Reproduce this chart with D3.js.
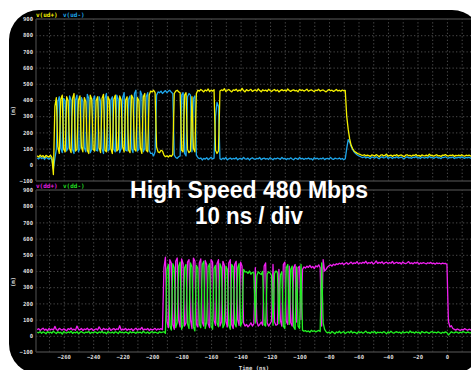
<!DOCTYPE html>
<html>
<head>
<meta charset="utf-8">
<script src="https://cdn.jsdelivr.net/npm/d3@7"></script>
<style>
  html, body { margin: 0; padding: 0; background: #fff; }
  svg { display: block; }
  .lbl { font-family: "DejaVu Sans Mono", monospace; font-weight: bold; font-size: 5.6px; fill: #dcdcdc; }
</style>
</head>
<body>
<div id="chart"></div>
<script>
// ---- data (time in ns, voltage in mV), one sample per ns from T0 ----
const T0 = -278, DT = 1;
const yTicks = [-100, 0, 100, 200, 300, 400, 500, 600, 700, 800, 900];
const xTicks = [-260, -240, -220, -200, -180, -160, -140, -120, -100, -80, -60, -40, -20, 0];
const gridTimes = [-270, -260, -250, -240, -230, -220, -210, -200, -190, -180, -170, -160, -150,
  -140, -130, -120, -110, -100, -90, -80, -70, -60, -50, -40, -30, -20, -10, 0, 10];
const titleLines = ["High Speed 480 Mbps", "10 ns / div"];

// v(ud+)  upstream plus
const udPlus = [
  55, 48, 60, 50, 57, 44, 58, 52, 47, 60, 45,
  -60,
  360, 415, 110, 70, 405, 430, 95, 80, 420, 395, 100, 75, 410, 440, 85, 95, 400, 425, 110, 80,
  415, 390, 90, 70, 430, 405, 95, 85, 395, 420, 105, 75, 410, 435, 90, 80, 420, 400, 100, 70,
  405, 430, 85, 95, 425, 400, 110, 80, 400, 420, 90, 75, 430, 410, 95, 85, 415, 395, 105, 70,
  420, 440, 90, 80, 430, 455,
  450, 460, 445, 110, 80, 75, 90, 85, 60, 50, 55, 48, 58, 52, 65, 440, 455, 460, 450, 445,
  90, 80, 430, 445, 95, 75, 85, 420, 100, 80, 440,
  460, 455, 465, 458, 450, 462, 456, 468, 452, 460, 455, 463,
  90, 70, 85,
  455, 462, 458, 470, 452, 460, 465, 457, 450, 463, 459, 467, 454, 461, 456, 472, 458, 450, 464, 457,
  460, 466, 453, 459, 462, 455, 469, 458, 451, 463, 457, 461, 454, 466, 459, 452, 460, 465, 456, 462,
  450, 458, 464, 457, 461, 455, 468, 459, 453, 460, 463, 456, 459, 451, 465, 458, 462, 455, 460, 467,
  454, 459, 463, 457, 452, 461, 458, 466, 455, 460, 462, 456, 450, 459, 464, 457, 461, 453, 458, 465,
  456, 460, 454, 462, 457, 459,
  300, 220, 160, 120, 100, 85, 78, 72, 68,
  65, 60, 58, 62, 55, 60, 57, 52, 61, 58, 54, 63, 57, 50, 59, 62, 55, 58, 66, 53,
  57, 60, 52, 59, 56, 63, 54, 58, 61, 55, 50, 59, 62, 56, 58, 53, 60, 57, 64, 55,
  58, 52, 61, 57, 55, 60, 54, 66, 57, 59, 53, 58, 62, 55, 57, 51, 60, 58, 63, 56,
  54, 59, 57, 61, 52, 58, 56, 60, 55, 62, 57, 53, 59, 56, 60, 54, 58, 61
];

// v(ud-)  upstream minus
const udMinus = [
  42, 36, 48, 38, 45, 33, 47, 40, 35, 44, 30,
  -25,
  40, 95, 390, 420, 100, 75, 410, 395, 85, 105, 425, 400, 95, 70, 400, 430, 80, 100, 415, 390,
  105, 80, 435, 410, 75, 95, 405, 425, 90, 85, 420, 395, 100, 70, 410, 440, 85, 95, 400, 420,
  95, 80, 430, 405, 75, 100, 415, 445, 90, 85, 405, 425, 100, 75, 440, 460, 85, 95, 455, 430,
  80, 100, 420, 445, 90, 70,
  70, 55, 80, 430, 450, 445, 455, 440, 450, 458, 445, 455, 460, 448, 440, 60, 45, 40, 50, 55,
  430, 445, 70, 55, 420, 440, 430, 80, 410, 425, 60,
  45, 38, 42, 30, 40, 35, 44, 32, 39, 46, 36, 41,
  300, 385, 360,
  38, 32, 41, 35, 45, 30, 37, 42, 34, 39, 36, 44, 31, 38, 40, 33, 46, 37, 35, 41,
  30, 39, 43, 36, 34, 40, 37, 45, 32, 38, 41, 35, 39, 33, 44, 37, 31, 40, 36, 42,
  38, 34, 46, 37, 40, 32, 39, 35, 43, 36, 31, 41, 38, 34, 45, 37, 40, 33, 39, 36,
  42, 35, 38, 30, 44, 37, 41, 34, 39, 36, 43, 32, 38, 40, 35, 46, 37, 33, 41, 38,
  36, 42, 34, 39, 31, 37,
  100, 155, 140, 115, 95, 80, 70, 62, 56,
  52, 48, 45, 50, 42, 47, 44, 38, 49, 45, 41, 50, 43, 37, 46, 49, 42, 45, 53, 40,
  44, 47, 39, 46, 43, 50, 41, 45, 48, 42, 37, 46, 49, 43, 45, 40, 47, 44, 51, 42,
  45, 39, 48, 44, 42, 47, 41, 53, 44, 46, 40, 45, 49, 42, 44, 38, 47, 45, 50, 43,
  41, 46, 44, 48, 39, 45, 43, 47, 42, 49, 44, 40, 46, 43, 47, 41, 45, 48
];

// v(dd+)  downstream plus
const ddPlus = [
  38, 44, 33, 40, 47, 35, 41, 30, 45, 37, 42, 36, 58, 39, 33, 46, 40, 35, 43, 38,
  31, 44, 39, 48, 36, 41, 34, 60, 40, 37, 45, 33, 42, 38, 47, 35, 40, 44, 32, 39,
  43, 36, 55, 41, 34, 46, 38, 42, 37, 48, 33, 40, 45, 36, 43, 39, 62, 35, 41, 38,
  46, 34, 42, 37, 44, 31, 40, 47, 36, 43, 39, 52, 35, 41, 38, 45, 33, 42, 37, 40,
  46, 35, 43, 39, 44, 38,
  420, 485, 90, 50, 470, 450, 70, 40, 460, 480, 95, 55, 475, 445, 60, 80, 455, 470, 100, 45,
  480, 460, 70, 55, 450, 475, 85, 60, 465, 440, 75, 50, 470, 455, 95, 65, 445, 470, 60, 85,
  460, 435, 90, 55, 450, 470, 70, 45, 440, 460, 100, 65, 455, 430, 80, 60,
  70, 55, 65, 80, 60, 75, 420, 90, 60, 70, 85, 65, 430, 450, 80, 60, 75, 90, 440, 85,
  65, 70, 410, 95, 60,
  440, 455, 90, 70, 430, 80, 60, 420, 440, 85, 420, 430,
  100, 410, 425, 418, 430, 422, 435, 420, 428, 415, 432, 425, 438, 420,
  60, 470, 400,
  410, 425, 432, 438, 430, 442, 436, 445, 440, 448, 443, 450, 438, 446, 452, 441, 448, 455, 444, 450,
  447, 458, 443, 451, 446, 454, 449, 460, 445, 452, 448, 456, 443, 450, 462, 447, 453, 449, 457, 444,
  451, 455, 446, 452, 448, 459, 445, 450, 454, 447, 452, 443, 456, 449, 445, 451, 458, 446, 450, 444,
  453, 448, 455, 442, 450, 446, 452, 448, 444, 451, 447, 453, 445, 449, 442, 450, 446, 448, 443, 449,
  445, 447, 440,
  90, 55, 62, 45, 40, 35, 42, 38, 33, 40, 36, 44, 39, 34, 41, 37, 43, 38
];

// v(dd-)  downstream minus
const ddMinus = [
  22, 18, 27, 15, 24, 20, 12, 26, 19, 23, 16, 28, 21, 14, 25, 18, 22, 10, 26, 20,
  17, 24, 19, 29, 15, 22, 18, 25, 13, 21, 26, 19, 16, 23, 20, 27, 14, 22, 18, 25,
  21, 15, 24, 19, 28, 17, 22, 12, 26, 20, 18, 23, 16, 25, 21, 14, 27, 19, 22, 17,
  24, 20, 13, 26, 18, 23, 21, 15, 25, 19, 22, 16, 28, 20, 17, 24, 14, 21, 26, 18,
  23, 19, 15, 25, 20, 22,
  25, 15, 410, 440, 60, 35, 445, 420, 50, 80, 430, 455, 40, 65, 420, 440, 75, 45, 450, 425,
  55, 30, 435, 415, 70, 50, 440, 460, 45, 85, 425, 445, 60, 40, 415, 435, 80, 55, 445, 420,
  50, 70, 430, 410, 65, 40, 440, 425, 75, 55, 420, 445, 60, 85, 410, 395,
  395, 385, 400, 380, 392, 388, 80, 370, 395, 385, 378, 398, 70, 60, 380, 395, 388, 372, 65, 385,
  400, 390, 75, 375, 395,
  60, 45, 420, 440, 70, 410, 430, 55, 40, 425, 60, 45,
  440, 35, 28, 32, 25, 30, 22, 34, 27, 31, 24, 29, 33, 26,
  450, 80, 40,
  25, 18, 23, 15, 27, 20, 12, 24, 19, 28, 16, 22, 26, 14, 21, 25, 18, 30, 17, 23,
  20, 13, 26, 19, 24, 16, 22, 29, 18, 21, 15, 25, 20, 27, 14, 23, 19, 22, 17, 26,
  21, 12, 24, 18, 28, 20, 16, 23, 25, 19, 22, 14, 26, 18, 21, 24, 17, 30, 20, 23,
  16, 25, 19, 22, 13, 27, 21, 18, 24, 20, 15, 23, 26, 19, 22, 17, 25, 20, 14, 22,
  18, 24, 20,
  5, 15, 25, 20, 18, 24, 21, 16, 23, 19, 26, 22, 17, 24, 20, 18, 23, 21
];

const panels = [
  { top: 19, bottom: 181, traces: [
      { name: "v(ud-)", values: udMinus, color: "#1ea6ea" },
      { name: "v(ud+)", values: udPlus, color: "#f4f000" }],
    legend: [["v(ud+)", "#f4f000"], ["v(ud-)", "#1ea6ea"]], unitY: 111 },
  { top: 190, bottom: 352, traces: [
      { name: "v(dd+)", values: ddPlus, color: "#f020f0" },
      { name: "v(dd-)", values: ddMinus, color: "#22f022" }],
    legend: [["v(dd+)", "#e020e0"], ["v(dd-)", "#22dd22"]], unitY: 282 }
];

// ---- drawing ----
const width = 471, height = 370;
const left = 36, right = 472;

const svg = d3.select("#chart").append("svg")
  .attr("width", width).attr("height", height);

svg.append("rect")
  .attr("x", 9).attr("y", 10).attr("width", 473).attr("height", 364)
  .attr("rx", 30).attr("fill", "#000");

const x = d3.scaleLinear().domain([-278.8, 17]).range([left, right]);

panels.forEach((p, pi) => {
  const y = d3.scaleLinear().domain([-100, 900]).range([p.bottom, p.top]);
  const g = svg.append("g");

  // dotted grid
  g.append("g")
    .attr("transform", `translate(0,${p.bottom})`)
    .call(d3.axisBottom(x).tickValues(gridTimes).tickSize(-(p.bottom - p.top)).tickFormat(""))
    .call(a => a.select(".domain").remove())
    .selectAll("line")
    .attr("stroke", "#4a4a4a").attr("stroke-dasharray", "1.3,2.2");

  g.append("g")
    .attr("transform", `translate(${left},0)`)
    .call(d3.axisLeft(y).tickValues(yTicks.slice(1, -1)).tickSize(-(right - left)).tickFormat(""))
    .call(a => a.select(".domain").remove())
    .selectAll("line")
    .attr("stroke", "#4a4a4a").attr("stroke-dasharray", "1.3,2.2");

  // frame lines
  g.append("line").attr("x1", left).attr("x2", right)
    .attr("y1", y(900)).attr("y2", y(900)).attr("stroke", "#3c3c3c").attr("stroke-width", 1.6);
  g.append("line").attr("x1", left).attr("x2", right)
    .attr("y1", y(-100)).attr("y2", y(-100)).attr("stroke", "#3c3c3c").attr("stroke-width", 1.6);
  g.append("line").attr("x1", left).attr("x2", left)
    .attr("y1", y(900)).attr("y2", y(-100)).attr("stroke", "#3c3c3c").attr("stroke-width", 1.4);

  // y tick labels
  g.append("g")
    .attr("transform", `translate(${left},0)`)
    .call(d3.axisLeft(y).tickValues(yTicks).tickSize(0).tickPadding(3))
    .call(a => a.select(".domain").remove())
    .selectAll("text")
    .attr("class", "lbl");

  g.append("text").attr("class", "lbl")
    .attr("transform", `translate(15,${p.unitY}) rotate(-90)`)
    .attr("text-anchor", "middle").text("(m)");

  // legend
  let lx = left;
  p.legend.forEach(([name, color]) => {
    g.append("text").attr("class", "lbl").attr("x", lx).attr("y", p.top - 2.5)
      .style("fill", color).style("font-size", "6px").text(name);
    lx += 27;
  });

  // traces
  const clipId = "clip" + pi;
  svg.append("clipPath").attr("id", clipId).append("rect")
    .attr("x", left).attr("y", p.top).attr("width", right - left).attr("height", p.bottom - p.top);

  const line = d3.line()
    .x((d, i) => x(T0 + i * DT))
    .y(d => y(d));

  p.traces.forEach(tr => {
    g.append("path")
      .attr("clip-path", `url(#${clipId})`)
      .attr("d", line(tr.values))
      .attr("fill", "none")
      .attr("stroke", tr.color)
      .attr("stroke-width", 1.3)
      .attr("stroke-linejoin", "round");
  });
});

// x axis labels
svg.append("g")
  .attr("transform", "translate(0,355)")
  .call(d3.axisBottom(x).tickValues(xTicks).tickSize(0).tickPadding(0))
  .call(a => a.select(".domain").remove())
  .selectAll("text")
  .attr("class", "lbl");

svg.append("text").attr("class", "lbl")
  .attr("x", (left + right) / 2).attr("y", 370)
  .attr("text-anchor", "middle").text("Time (ns)");

// title, two lines (sized so the line boxes just clear each other)
const title = svg.append("g")
  .style("font-family", "'Liberation Sans', Arial, sans-serif")
  .style("font-weight", "bold").style("font-size", "23px").attr("fill", "#fff");
title.append("text").attr("x", 130).attr("y", 198)
  .attr("textLength", 238).attr("lengthAdjust", "spacingAndGlyphs").text(titleLines[0]);
title.append("text").attr("x", 195).attr("y", 224)
  .attr("textLength", 108).attr("lengthAdjust", "spacingAndGlyphs").text(titleLines[1]);
</script>
</body>
</html>
